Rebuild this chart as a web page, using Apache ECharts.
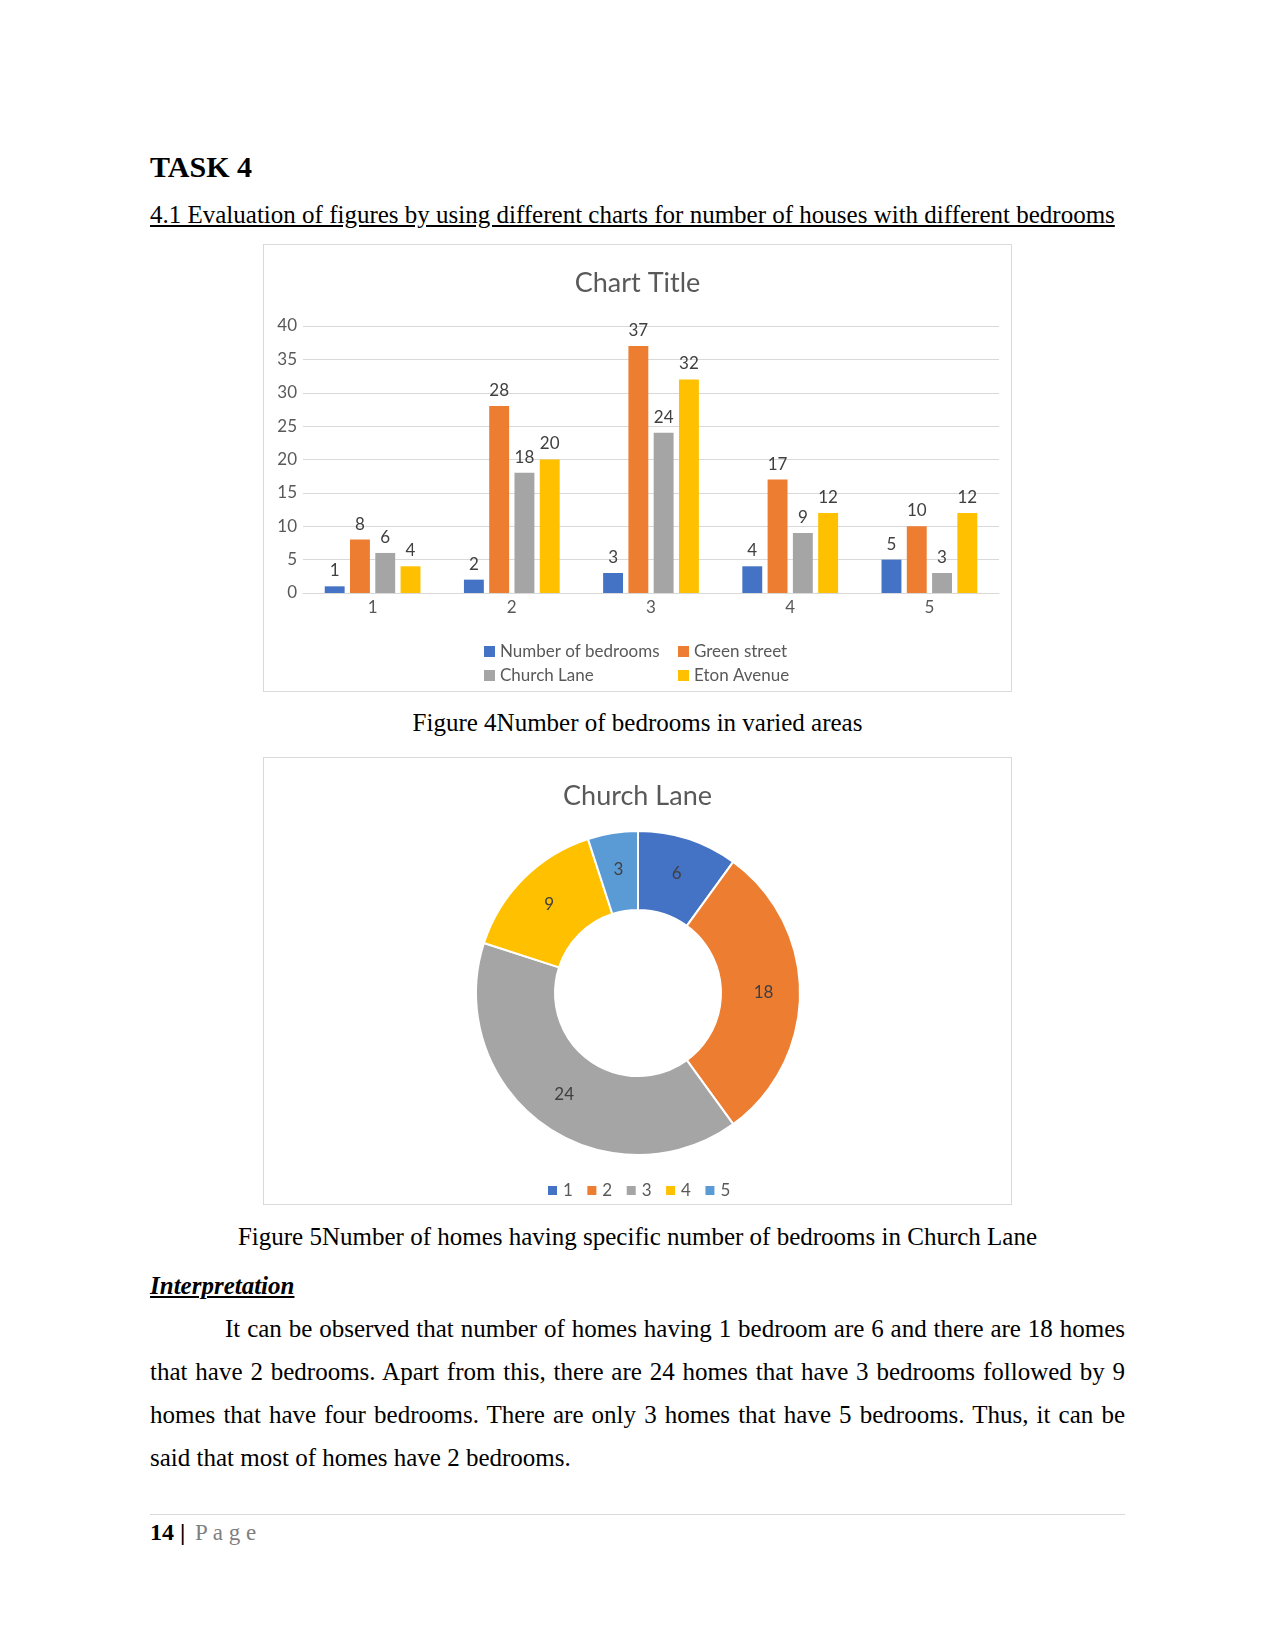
<!DOCTYPE html>
<html>
<head>
<meta charset="utf-8">
<script src="https://cdn.jsdelivr.net/npm/echarts@6.0.0/dist/echarts.min.js"></script>
<style>
  html, body { margin: 0; padding: 0; background: #fff; }
  .page { position: relative; width: 1275px; height: 1650px; font-family: "Liberation Serif", "Times New Roman", serif; color: #000; }
  .txt { position: absolute; white-space: nowrap; line-height: 1; }
  .frame { position: absolute; box-sizing: border-box; border: 1px solid #d9d9d9; pointer-events: none; }
  .chart { position: absolute; }
  .para-line { position: absolute; left: 150px; width: 975px; font-size: 25px; line-height: 43px; white-space: nowrap; text-align: justify; text-align-last: justify; }
</style>
</head>
<body>
<div class="page">
  <div class="txt" style="left:150px; top:152px; font-size:30px; font-weight:bold;">TASK 4</div>
  <div class="txt" style="left:150px; top:202px; font-size:25px; text-decoration:underline;">4.1 Evaluation of figures by using different charts for number of houses with different bedrooms</div>

  <div id="barChart" class="chart" style="left:263px; top:244px; width:749px; height:448px;"></div>
  <div class="frame" style="left:263px; top:244px; width:749px; height:448px;"></div>
  <div class="txt" style="left:0; width:1275px; text-align:center; top:710px; font-size:25px;">Figure 4Number of bedrooms in varied areas</div>

  <div id="pieChart" class="chart" style="left:263px; top:757px; width:749px; height:448px;"></div>
  <div class="frame" style="left:263px; top:757px; width:749px; height:448px;"></div>
  <div class="txt" style="left:0; width:1275px; text-align:center; top:1224px; font-size:25px;">Figure 5Number of homes having specific number of bedrooms in Church Lane</div>

  <div class="txt" style="left:150px; top:1273px; font-size:25px; font-weight:bold; font-style:italic; text-decoration:underline;">Interpretation</div>
  <div class="para-line" style="top:1307px; left:225px; width:900px;">It can be observed that number of homes having 1 bedroom are 6 and there are 18 homes</div>
  <div class="para-line" style="top:1350px;">that have 2 bedrooms. Apart from this, there are 24 homes that have 3 bedrooms followed by 9</div>
  <div class="para-line" style="top:1393px;">homes that have four bedrooms. There are only 3 homes that have 5 bedrooms. Thus, it can be</div>
  <div class="para-line" style="top:1436px; text-align-last:left;">said that most of homes have 2 bedrooms.</div>

  <div style="position:absolute; left:150px; top:1514px; width:975px; height:1px; background:#d9d9d9;"></div>
  <div class="txt" style="left:150px; top:1520px; font-size:24px; font-weight:bold;">14</div>
  <div class="txt" style="left:180px; top:1520px; font-size:24px; font-weight:bold;">|</div>
  <div class="txt" style="left:195px; top:1521px; font-size:23px; color:#7f7f7f;">P a g e</div>
</div>

<script>
// bar chart data
const categories = ['1', '2', '3', '4', '5']
const seriesNames = ['Number of bedrooms', 'Green street', 'Church Lane', 'Eton Avenue']
const numberOfBedrooms = [1, 2, 3, 4, 5]
const greenStreet = [8, 28, 37, 17, 10]
const churchLane = [6, 18, 24, 9, 3]
const etonAvenue = [4, 20, 32, 12, 12]

// doughnut data (Church Lane homes by bedrooms)
const pieNames = ['1', '2', '3', '4', '5']
const pieValues = [6, 18, 24, 9, 3]

const barColors = ['#4472c4', '#ed7d31', '#a5a5a5', '#ffc000']
const pieColors = ['#4472c4', '#ed7d31', '#a5a5a5', '#ffc000', '#5b9bd5']
const font = 'Lato'

const barChart = echarts.init(document.getElementById('barChart'))
const barValues = [numberOfBedrooms, greenStreet, churchLane, etonAvenue]

const legendStyle = {
  orient: 'vertical',
  top: 399,
  padding: 0,
  itemWidth: 11,
  itemHeight: 11,
  itemGap: 7,
  icon: 'rect',
  textStyle: { fontFamily: font, fontSize: 17, color: '#595959', lineHeight: 17 }
}

barChart.setOption({
  animation: false,
  title: {
    text: 'Chart Title',
    left: 'center',
    top: 26,
    padding: 0,
    textStyle: { fontFamily: font, fontSize: 27, fontWeight: 'normal', color: '#595959', lineHeight: 27 }
  },
  legend: [
    Object.assign({ data: [seriesNames[0], seriesNames[2]], left: 221 }, legendStyle),
    Object.assign({ data: [seriesNames[1], seriesNames[3]], left: 415 }, legendStyle)
  ],
  grid: { left: 40, right: 13, top: 82, bottom: 99, containLabel: false },
  xAxis: {
    type: 'category',
    data: categories,
    axisTick: { show: false },
    axisLine: { lineStyle: { color: '#d9d9d9', width: 1 } },
    axisLabel: { margin: 6, fontFamily: font, fontSize: 17, color: '#595959' }
  },
  yAxis: {
    type: 'value',
    min: 0,
    max: 40,
    interval: 5,
    axisLine: { show: false },
    axisTick: { show: false },
    splitLine: { lineStyle: { color: '#d9d9d9', width: 1 } },
    axisLabel: { margin: 6, fontFamily: font, fontSize: 17, color: '#595959' }
  },
  series: seriesNames.map((name, i) => ({
    name: name,
    type: 'bar',
    data: barValues[i],
    barWidth: '14.3%',
    barGap: '27%',
    itemStyle: { color: barColors[i] },
    label: { show: true, position: 'top', distance: 7, fontFamily: font, fontSize: 17, color: '#404040' }
  }))
})

const pieChart = echarts.init(document.getElementById('pieChart'))
pieChart.setOption({
  animation: false,
  color: pieColors,
  title: {
    text: 'Church Lane',
    left: 'center',
    top: 26,
    padding: 0,
    textStyle: { fontFamily: font, fontSize: 27, fontWeight: 'normal', color: '#595959', lineHeight: 27 }
  },
  legend: {
    data: pieNames,
    left: 283,
    top: 425,
    padding: 0,
    itemWidth: 11,
    itemHeight: 11,
    itemGap: 12.5,
    icon: 'rect',
    textStyle: { fontFamily: font, fontSize: 17, color: '#595959', lineHeight: 17 }
  },
  series: [
    {
      type: 'pie',
      center: [375, 236],
      radius: [83, 162],
      startAngle: 90,
      clockwise: true,
      data: pieNames.map((n, i) => ({ name: n, value: pieValues[i] })),
      itemStyle: { borderColor: '#fff', borderWidth: 2 },
      label: { show: true, position: 'inside', formatter: '{c}', fontFamily: font, fontSize: 17, color: '#404040' },
      labelLine: { show: false }
    }
  ]
})
</script>
</body>
</html>
